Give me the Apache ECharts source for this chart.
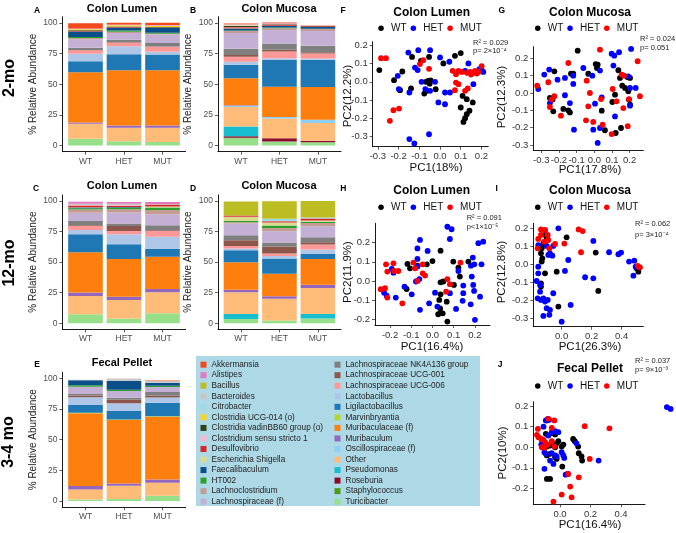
<!DOCTYPE html>
<html><head><meta charset="utf-8">
<script src="https://cdn.jsdelivr.net/npm/echarts@6/dist/echarts.min.js"></script>
<style>html,body{margin:0;padding:0;background:#fff}#c{width:676px;height:533px}</style>
</head><body><div id="c"></div><script>
const FONT = '"Liberation Sans", Arial, Helvetica, sans-serif';
const taxa = ['Akkermansia','Alistipes','Bacillus','Bacteroides','Citrobacter','Clostridia UCG-014 (o)','Clostridia vadinBB60 group (o)','Clostridium sensu stricto 1','Desulfovibrio','Escherichia Shigella','Faecalibaculum','HT002','Lachnoclostridium','Lachnospiraceae (f)','Lachnospiraceae NK4A136 group','Lachnospiraceae UCG-001','Lachnospiraceae UCG-006','Lactobacillus','Ligilactobacillus','Marvinbryantia','Muribaculaceae (f)','Muribaculum','Oscillospiraceae (f)','Other','Pseudomonas','Roseburia','Staphylococcus','Turicibacter'];
const taxaColors = ['#F2491F','#E377C2','#BCBD22','#C7C7C7','#9EDAE5','#FFD21F','#2E4316','#F7B6D2','#D62728','#DBDB8D','#0B4F8A','#2CA02C','#C49C94','#C5B0D5','#7F7F7F','#8C564B','#FF9896','#AEC7E8','#1F77B4','#B2D732','#FF7F0E','#9467BD','#8DCFF5','#FFBB78','#17BECF','#8B0A2A','#4E9A1C','#98DF8A'];
const groups = ['WT','HET','MUT'];
const barTicks = [0,25,50,75,100];

// relative abundance (%) per taxon, in legend order
const A_WT  = [4.4,0.3,0,0.3,0,0.8,0.5,0,0.5,0,4.5,0.8,1,6.8,1.9,0.3,2.8,6.2,8.8,0,41,1,0,12.3,0,0,0,5.5];
const A_HET = [1.5,0.3,0,0.3,0,1,0.3,0,0.5,0,2.5,1,1,5.5,2.1,0.3,2.8,6.5,13.1,0,45,1.9,0,11,0,0,0,3.5];
const A_MUT = [1.8,0.3,0,0.3,0,1,0.3,0,0.3,0,4,0.8,0.8,6.9,2.7,0.3,4.1,2.2,12.8,0,45,1.9,0,11.5,0,0,0,3];
const B_WT  = [0.6,0.3,0,0.5,0.3,0.3,0.8,0.3,0.8,0.3,1.5,0.5,1.5,13,5,1.5,4,2.5,11,0,22,0.3,1,16,8,1.2,0.3,6];
const B_HET = [0.5,0.3,0,0.5,0,0,0.5,0,0.8,0,1.5,0.5,1.5,11,5.1,1.4,5.5,1.4,21.7,0,24.8,0,1.2,16,0,2.7,0,3.3];
const B_MUT = [0.3,0,0,0.3,0,0,0.3,0,0.5,0,1.5,0.3,1.5,12,5.4,1,4,1,22.3,0,26.7,0,2.7,14.3,0,1.3,0,2.7];
const C_WT  = [0,1.5,0,1,0,0,0,0.5,1.4,0.3,0.5,1,2.6,6.9,3.5,0.5,3.3,3.5,14.7,0,33,2.7,0,15,0,0,0,7.4];
const C_HET = [0,1.5,0,1,0,0,0,0.5,1,0,0.5,1.5,2.5,9,2.1,4.1,2.7,8.2,12,0,30.8,2.8,0,15,0,0,0,4];
const C_MUT = [0,1.5,0,0.5,0,0,0,0,1.5,1,0,2,3.5,9,4.1,0.5,4.7,10,6.3,0,26.5,2.7,0,17.1,0,0,0,8.2];
const D_WT  = [0,0,11.5,0,0,0,0,0,1,3.5,0,1,1,9.6,4.1,4.7,2.2,1.4,9.7,0,22.5,2.2,0,17.7,4.1,0,0,3.5];
const D_HET = [0,0,14.3,0,2,0,0,0,1,2.5,0,2,2.7,9.3,3.5,5.5,1.9,2.2,12.4,0,18.3,2.2,0,17.8,0,0,0,2.2];
const D_MUT = [0,0,13.4,0,1,0,0,0,1.5,1,0,1,2.7,9,4.1,1.9,4.1,3.6,4.1,0,21.1,2.7,0,21.3,3.5,0,0,4];
const E_WT  = [0,0,0,0.5,0,0,0,0,0,0,4,1.2,0,6,1.2,1.5,0,6.2,6.3,0.5,59.3,2.7,0,8.2,0,0,0,1.3];
const E_HET = [0,0,0,2,0,0,0,0,0,0,7,1.2,0,5.5,1.5,3,0,6.3,6.8,0.5,51.6,1.9,0,10.9,0,0,0,1.6];
const E_MUT = [0.3,0,0,1.5,0,0,0,0,0,0,2.5,1,0,4,3,1.5,0,4.3,10.9,0.5,51.1,2.7,0,10.6,0,0,0,4.3];

// PCA scores [PC1, PC2]
const F_WT = [[-0.293,0.065],[-0.222,0.009],[-0.182,0.057],[-0.193,-0.046],[-0.140,-0.037],[-0.135,0.138],[-0.092,0.116],[-0.053,0.138],[-0.068,0.0],[-0.05,-0.01],[-0.058,0.005],[-0.045,0.008],[-0.076,-0.065],[-0.064,-0.05],[-0.021,-0.041],[0.016,0.102],[0.072,0.144],[0.1,0.159],[0.201,0.065],[0.109,-0.078],[0.129,-0.096],[0.1,-0.142],[0.129,-0.179],[0.121,-0.201],[0.113,-0.222],[0.158,-0.114],[0.142,-0.16]];
const F_HET = [[-0.204,0.033],[-0.199,-0.04],[-0.148,-0.059],[-0.148,-0.317],[-0.124,-0.341],[-0.053,-0.29],[-0.153,0.162],[-0.105,0.175],[-0.121,0.079],[-0.108,0.065],[-0.048,0.175],[-0.089,0.0],[-0.071,-0.04],[-0.048,-0.05],[-0.024,0.0],[0.0,0.135],[0.045,0.111],[-0.008,-0.114],[0.024,-0.124],[0.024,-0.059],[0.048,-0.059],[0.121,0.061],[0.137,0.102],[0.209,0.055],[0.161,-0.013],[0.19,0.07]];
const F_MUT = [[-0.285,0.131],[-0.261,0.131],[-0.225,-0.157],[-0.198,-0.148],[-0.242,-0.216],[-0.081,0.12],[-0.097,0.098],[-0.053,0.072],[0.061,0.061],[0.089,0.061],[0.105,0.055],[0.077,0.042],[0.077,-0.004],[0.089,-0.013],[0.072,-0.046],[0.121,-0.05],[0.134,-0.037],[0.145,0.055],[0.158,0.051],[0.169,0.061],[0.177,0.046],[0.185,0.055],[0.201,0.087],[0.15,0.04],[0.13,0.05]];
const G_WT = [[-0.094,0.244],[-0.226,0.125],[-0.132,0.111],[-0.119,0.111],[-0.034,0.111],[0.008,0.167],[0.019,0.163],[0.015,0.144],[0.136,0.131],[0.145,0.087],[0.187,0.092],[0.202,0.087],[0.158,0.042],[0.174,0.029],[0.192,0.01],[0.196,-0.038],[0.202,-0.067],[0.117,-0.01],[0.102,-0.052],[0.042,-0.102],[0.06,-0.215],[0.151,-0.202],[0.121,-0.231],[-0.251,-0.029],[-0.236,-0.038],[-0.232,-0.106],[-0.175,-0.092],[-0.147,-0.1],[-0.138,-0.112]];
const G_HET = [[-0.255,0.135],[-0.283,0.106],[-0.317,0.023],[-0.208,0.077],[-0.166,0.087],[-0.119,0.1],[-0.119,0.052],[-0.166,-0.013],[-0.062,0.144],[-0.011,0.1],[0.032,0.129],[0.098,0.227],[0.113,0.215],[0.14,0.235],[0.208,0.254],[0.108,0.158],[0.192,0.096],[0.202,0.029],[0.234,0.029],[0.202,-0.073],[0.117,-0.135],[0.004,-0.062],[0.042,-0.025],[-0.138,-0.058],[-0.115,-0.212],[-0.006,-0.212],[0.032,-0.202],[0.019,-0.288],[-0.251,-0.058]];
const G_MUT = [[-0.147,0.173],[-0.26,0.062],[-0.323,0.042],[-0.226,-0.019],[-0.242,-0.038],[-0.251,-0.081],[-0.189,-0.131],[0.032,0.25],[-0.043,0.071],[-0.025,0.0],[-0.034,-0.077],[0.038,-0.035],[-0.047,-0.158],[-0.006,-0.167],[0.047,-0.183],[0.104,0.023],[0.098,-0.237],[0.155,0.106],[0.168,0.1],[0.126,-0.048],[0.164,-0.087],[0.196,-0.035],[0.189,-0.192],[0.245,0.183],[0.258,-0.019]];
const H_WT = [[-0.118,0.089],[-0.106,0.066],[-0.071,0.08],[-0.027,0.087],[0.0,0.104],[0.038,0.158],[-0.122,-0.042],[0.098,0.101],[0.122,0.07],[0.129,0.023],[0.101,-0.021],[0.038,-0.007],[0.051,-0.003],[0.038,-0.07],[0.032,-0.099],[0.067,-0.108],[0.036,-0.143],[0.048,-0.169],[0.027,-0.174],[0.038,-0.165],[0.07,-0.212],[0.169,0.101]];
const H_HET = [[-0.228,-0.061],[-0.216,-0.077],[-0.184,0.043],[-0.192,0.063],[-0.173,-0.087],[-0.132,-0.03],[-0.098,-0.07],[-0.059,0.214],[-0.071,0.17],[-0.071,0.115],[-0.071,0.075],[-0.078,-0.003],[-0.062,0.01],[-0.059,-0.151],[-0.023,0.157],[-0.016,-0.117],[0.012,-0.061],[0.023,-0.134],[0.07,0.283],[0.09,0.27],[0.082,0.219],[0.122,0.052],[0.082,-0.064],[0.111,-0.146],[0.145,-0.024],[0.145,-0.064],[0.142,-0.104],[0.19,0.122],[0.197,0.087],[0.181,0.08],[0.185,0.023],[0.192,-0.021],[0.196,-0.052],[0.216,0.197],[0.239,0.205],[0.231,0.087],[0.224,-0.082],[0.2,-0.203],[0.18,-0.122]];
const H_MUT = [[-0.219,0.087],[-0.184,0.092],[-0.213,0.049],[-0.181,0.052],[-0.161,0.052],[-0.244,-0.043],[-0.224,-0.038],[-0.213,-0.087],[-0.142,-0.117],[-0.09,0.096],[-0.082,0.066],[-0.046,0.087],[-0.046,0.04],[-0.035,0.028],[-0.071,0.0],[0.07,0.01],[0.082,-0.017],[0.064,-0.056],[0.132,0.096]];
const I_WT = [[-0.107,0.163],[-0.1,0.148],[-0.122,0.117],[-0.133,0.089],[-0.138,0.061],[-0.129,0.033],[-0.133,0.015],[-0.111,-0.05],[-0.138,-0.106],[-0.138,-0.124],[-0.033,-0.041],[0.033,0.15],[0.227,0.065],[0.244,-0.148],[-0.022,-0.235],[0.511,-0.041],[0.5,-0.022]];
const I_HET = [[-0.111,0.189],[-0.022,0.2],[-0.156,0.107],[-0.1,0.102],[-0.078,0.061],[-0.089,0.052],[-0.062,0.048],[-0.056,0.102],[-0.156,-0.013],[-0.156,-0.05],[-0.167,-0.093],[-0.16,-0.189],[-0.138,-0.198],[-0.144,-0.115],[-0.144,-0.152],[-0.122,-0.189],[-0.111,-0.207],[-0.093,-0.198],[-0.1,-0.244],[-0.122,-0.287],[-0.078,-0.254],[-0.082,-0.281],[-0.056,-0.161],[0.044,0.024],[0.022,-0.037],[0.06,-0.226],[0.0,-0.319],[0.156,-0.072],[0.211,0.13],[0.211,-0.078],[0.316,0.067],[0.378,0.056],[0.396,0.065],[0.449,0.015],[0.484,0.02],[0.493,-0.013],[0.478,-0.063]];
const I_MUT = [[-0.138,0.194],[-0.111,0.191],[-0.138,0.163],[-0.156,0.141],[-0.16,0.089],[-0.116,0.126],[-0.093,0.163],[-0.089,0.135],[-0.082,0.089],[-0.044,0.113],[0.018,0.115],[0.113,0.194],[0.14,0.185],[0.129,0.067],[0.507,-0.009],[0.522,-0.017]];
const J_WT = [[-0.086,0.13],[-0.076,0.133],[-0.093,0.065],[-0.054,0.068],[-0.032,0.062],[-0.108,0.013],[-0.086,0.003],[-0.065,0.008],[-0.043,0.013],[-0.032,0.0],[-0.022,0.019],[-0.011,0.029],[0.011,0.003],[0.022,0.013],[-0.086,-0.04],[-0.065,-0.032],[-0.032,-0.049],[-0.022,-0.057],[0.015,-0.094],[-0.086,-0.154],[-0.065,-0.154],[0.086,0.04],[0.097,0.029],[0.119,0.003],[0.123,-0.029],[0.141,-0.045],[0.145,-0.065]];
const J_HET = [[0.70,0.195],[0.725,0.186],[-0.108,0.1],[-0.093,0.13],[-0.08,0.138],[-0.071,0.133],[-0.123,0.013],[-0.115,0.029],[-0.102,-0.024],[-0.093,-0.032],[-0.102,-0.105],[-0.054,0.073],[-0.032,0.078],[-0.011,0.073],[-0.054,-0.029],[-0.032,-0.04],[-0.022,-0.045],[-0.065,-0.065],[-0.043,-0.081],[0.011,-0.024],[0.022,-0.04],[0.028,-0.052],[0.037,-0.133],[0.05,-0.13],[0.108,0.019],[0.253,-0.065],[-0.076,0.057]];
const J_MUT = [[-0.145,0.089],[-0.151,0.06],[-0.141,0.049],[-0.076,0.138],[-0.037,0.13],[-0.123,0.04],[-0.108,0.036],[-0.097,0.024],[-0.119,0.0],[-0.102,-0.003],[-0.08,0.013],[-0.054,0.029],[-0.037,0.003],[-0.054,0.094],[0.054,-0.13],[0.067,-0.191],[0.076,-0.243],[0.011,-0.23],[-0.043,-0.264],[0.123,-0.146],[0.162,0.102],[0.195,-0.057],[0.324,0.092]];

const barPanels = [
  {vals:[A_WT,A_HET,A_MUT], title:'Colon Lumen', letter:'A', g:{left:62.4,top:16.7,width:123.2,height:135}},
  {vals:[B_WT,B_HET,B_MUT], title:'Colon Mucosa', letter:'B', g:{left:217.9,top:16.7,width:123.1,height:135}},
  {vals:[C_WT,C_HET,C_MUT], title:'Colon Lumen', letter:'C', g:{left:62.4,top:194.9,width:123.2,height:134.5}},
  {vals:[D_WT,D_HET,D_MUT], title:'Colon Mucosa', letter:'D', g:{left:217.9,top:194.9,width:123.1,height:134.5}},
  {vals:[E_WT,E_HET,E_MUT], title:'Fecal Pellet', letter:'E', g:{left:62.4,top:372.2,width:123.2,height:135}}
];
const scatPanels = [
  {pts:[F_WT,F_HET,F_MUT], g:{left:372.7,top:41.7,width:115.6,height:105}, x:[-0.325,0.233], y:[-0.359,0.222], xt:[-0.3,-0.2,-0.1,0,0.1,0.2], yt:[-0.3,-0.2,-0.1,0,0.1,0.2]},
  {pts:[G_WT,G_HET,G_MUT], g:{left:533.3,top:46.7,width:110,height:103.3}, x:[-0.345,0.277], y:[-0.329,0.267], xt:[-0.3,-0.2,-0.1,0,0.1,0.2], yt:[-0.3,-0.2,-0.1,0,0.1,0.2]},
  {pts:[H_WT,H_HET,H_MUT], g:{left:375,top:223.3,width:115,height:101.7}, x:[-0.271,0.271], y:[-0.23,0.301], xt:[-0.2,-0.1,0,0.1,0.2], yt:[-0.2,-0.1,0,0.1,0.2]},
  {pts:[I_WT,I_HET,I_MUT], g:{left:533.3,top:223.3,width:110,height:103.4}, x:[-0.189,0.544], y:[-0.347,0.228], xt:[0,0.2,0.4], yt:[-0.3,-0.2,-0.1,0,0.1,0.2]},
  {pts:[J_WT,J_HET,J_MUT], g:{left:533.3,top:401.7,width:111.7,height:102.6}, x:[-0.175,0.557], y:[-0.277,0.221], xt:[0,0.2,0.4], yt:[-0.2,-0.1,0,0.1,0.2]}
];
const groupColors = ['#000000','#0000FF','#FF0000'];

const grid = [], xAxis = [], yAxis = [], series = [], graphic = [];
const axLine = {show:true, onZero:false, lineStyle:{color:'#000', width:0.9}};
function tick(vals){ return {show:true, customValues:vals, length:3, lineStyle:{color:'#333', width:0.8}}; }

barPanels.forEach((p, i) => {
  grid.push(Object.assign({containLabel:false}, p.g));
  xAxis.push({gridIndex:i, type:'value', min:0.4, max:3.6, axisLine:axLine, axisTick:tick([1,2,3]),
    axisLabel:{customValues:[1,2,3], formatter:v => groups[Math.round(v)-1], fontSize:8.5, color:'#4D4D4D', margin:5, fontFamily:FONT},
    splitLine:{show:false}});
  yAxis.push({gridIndex:i, type:'value', min:-5, max:105, axisLine:axLine, axisTick:tick(barTicks),
    axisLabel:{customValues:barTicks, fontSize:8.5, color:'#4D4D4D', margin:5, fontFamily:FONT}, splitLine:{show:false}});
  const bw = p.g.width / 3.2 * 0.9;
  for (let k = taxa.length - 1; k >= 0; k--) {
    series.push({type:'bar', name:taxa[k], xAxisIndex:i, yAxisIndex:i, stack:'s'+i, barWidth:bw,
      encode:{x:1, y:0},
      data:[1,2,3].map((x, gi) => [p.vals[gi][k], x]), itemStyle:{color:taxaColors[k]}, silent:true});
  }
});
scatPanels.forEach((p, j) => {
  const i = j + 5;
  grid.push(Object.assign({containLabel:false}, p.g));
  xAxis.push({gridIndex:i, type:'value', min:p.x[0], max:p.x[1], axisLine:axLine, axisTick:tick(p.xt),
    axisLabel:{customValues:p.xt, formatter:v => v.toFixed(1), fontSize:9.5, color:'#333', margin:5, fontFamily:FONT}, splitLine:{show:false}});
  yAxis.push({gridIndex:i, type:'value', min:p.y[0], max:p.y[1], axisLine:axLine, axisTick:tick(p.yt),
    axisLabel:{customValues:p.yt, formatter:v => v.toFixed(1), fontSize:9.5, color:'#333', margin:5, fontFamily:FONT}, splitLine:{show:false}});
  groups.forEach((gname, gi) => {
    series.push({type:'scatter', name:gname, xAxisIndex:i, yAxisIndex:i, data:p.pts[gi], symbolSize:5.8, clip:false,
      itemStyle:{color:groupColors[gi], opacity:1}, silent:true});
  });
});

function txt(x, y, text, size, o) {
  o = o || {};
  return {type:'text', x:x, y:y, rotation:o.rot || 0, silent:true, z:100,
    style:{text:text, fill:o.color || '#000', font:(o.bold ? 'bold ' : '') + size + 'px ' + FONT,
      align:o.align || 'center', verticalAlign:'middle', textAlign:o.align || 'center', textVerticalAlign:'middle'}};
}
graphic.push({type:'rect', shape:{x:196, y:356, width:284, height:150}, style:{fill:'#ADD8E6'}, silent:true, z:0});
graphic.push(txt(10, 78, '2-mo', 16, {bold:true, rot:Math.PI/2}));
graphic.push(txt(10, 263, '12-mo', 16, {bold:true, rot:Math.PI/2}));
graphic.push(txt(9, 442, '3-4 mo', 16, {bold:true, rot:Math.PI/2}));
const barTitlePos = [[122,9],[279,9],[122,185.5],[279,185.5],[122,362.5]];
const barLetterPos = [[37,11],[193,11],[36,189],[193,189],[37,365]];
barPanels.forEach((p, i) => {
  graphic.push(txt(barTitlePos[i][0], barTitlePos[i][1], p.title, 11, {bold:true}));
  graphic.push(txt(barLetterPos[i][0], barLetterPos[i][1], p.letter, 8.5, {bold:true}));
  graphic.push(txt(p.g.left - 29.5, p.g.top + p.g.height / 2, '% Relative Abundance', 10, {rot:Math.PI/2, color:'#222'}));
});
const scatTexts = [
  {title:'Colon Lumen', tp:[431.7,12.5], letter:'F', lp:[343,11], r2:'R\u00B2 = 0.029', p:'p= 2\u00D710\u207B\u2074', rp:[473,43,50.5], xt:'PC1(18%)', xp:[436,168], yt:'PC2(12.2%)', yp:[348,96]},
  {title:'Colon Mucosa', tp:[590,12.5], letter:'G', lp:[501.7,11], r2:'R\u00B2 = 0.024', p:'p= 0.051', rp:[640,39,47.7], xt:'PC1(17.8%)', xp:[590,170], yt:'PC2(12.3%)', yp:[501.7,97]},
  {title:'Colon Lumen', tp:[431.7,190.5], letter:'H', lp:[343.3,188.5], r2:'R\u00B2 = 0.091', p:'p<1\u00D710\u207B\u2075', rp:[466.7,218.3,226.7], xt:'PC1(16.4%)', xp:[432,346.7], yt:'PC2(11.9%)', yp:[348.3,272]},
  {title:'Colon Mucosa', tp:[590,190.5], letter:'I', lp:[496.7,188.5], r2:'R\u00B2 = 0.062', p:'p= 3\u00D710\u207B\u2074', rp:[635,224.3,235], xt:'PC1(26.3%)', xp:[590,346.7], yt:'PC2(12.8%)', yp:[502.3,272]},
  {title:'Fecal Pellet', tp:[590,369], letter:'J', lp:[500,365], r2:'R\u00B2 = 0.037', p:'p= 9\u00D710\u207B\u00B3', rp:[635,360.7,370], xt:'PC1(16.4%)', xp:[590,525], yt:'PC2(10%)', yp:[503.3,453]}
];
scatTexts.forEach(s => {
  graphic.push(txt(s.tp[0], s.tp[1], s.title, 12, {bold:true}));
  graphic.push(txt(s.lp[0], s.lp[1], s.letter, 8.5, {bold:true}));
  graphic.push(txt(s.rp[0], s.rp[1], s.r2, 7.5, {align:'left', color:'#222'}));
  graphic.push(txt(s.rp[0], s.rp[2], s.p, 7.5, {align:'left', color:'#222'}));
  graphic.push(txt(s.xp[0], s.xp[1], s.xt, 11.5, {color:'#111'}));
  graphic.push(txt(s.yp[0], s.yp[1], s.yt, 11.5, {color:'#111', rot:Math.PI/2}));
});

const legendBase = {orient:'vertical', itemWidth:6, itemHeight:6, itemGap:0, padding:0, icon:'rect', selectedMode:false,
  textStyle:{fontSize:8.2, color:'#222', fontFamily:FONT, lineHeight:10.54}};
const legend = [
  Object.assign({}, legendBase, {left:200.5, top:359.4, data:taxa.slice(0,14)}),
  Object.assign({}, legendBase, {left:334.5, top:359.4, data:taxa.slice(14)})
];
const scatLegendPos = [[378.3,22.3],[535,22.3],[378.3,201.3],[535,201.3],[535,380]];
scatLegendPos.forEach(pos => {
  legend.push({orient:'horizontal', left:pos[0], top:pos[1], itemWidth:10, itemHeight:5.5, itemGap:4, padding:0, icon:'circle',
    selectedMode:false, data:groups, textStyle:{fontSize:10, color:'#111', fontFamily:FONT, lineHeight:12}});
});

const chart = echarts.init(document.getElementById('c'), null, {renderer:'canvas'});
chart.setOption({animation:false, backgroundColor:'#fff', textStyle:{fontFamily:FONT},
  grid:grid, xAxis:xAxis, yAxis:yAxis, series:series, legend:legend, graphic:graphic, tooltip:{show:false}});
</script></body></html>
